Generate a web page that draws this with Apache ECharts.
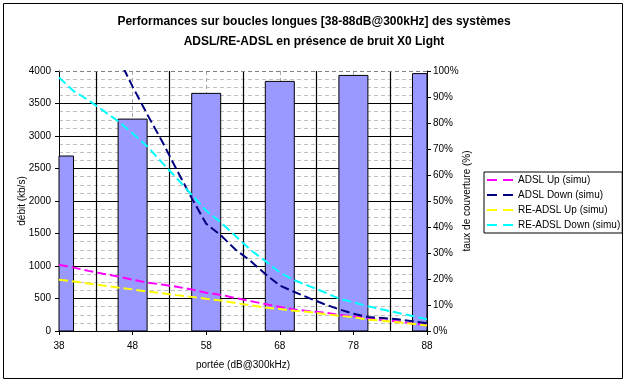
<!DOCTYPE html>
<html>
<head>
<meta charset="utf-8">
<script src="https://cdn.jsdelivr.net/npm/echarts@6/dist/echarts.min.js"></script>
<style>
html,body{margin:0;padding:0;background:#fff;}
#chart{width:628px;height:383px;}
</style>
</head>
<body>
<div id="chart"></div>
<script>
// ---- data ----
const barPositions = [38, 48, 58, 68, 78, 88];
const coverage = [0.673, 0.815, 0.914, 0.960, 0.983, 0.990];

const dbPoints = [38,40,42,44,46,48,50,52,54,56,58,60,62,64,66,68,70,72,74,76,78,80,82,84,86,88];
const adslUp = [1020,975,925,880,840,790,745,715,680,640,590,555,505,460,415,370,330,305,285,250,225,200,165,150,115,95];
const adslDown = [null,null,null,null,4220,3760,3330,2920,2480,2050,1650,1470,1250,1080,880,700,600,505,415,335,265,215,200,180,150,120];
const reAdslUp = [790,760,730,700,668,640,608,580,552,525,495,470,430,395,362,338,310,292,262,235,212,175,158,135,110,85];
const reAdslDown = [3900,3690,3550,3390,3230,3040,2840,2590,2350,2100,1850,1670,1460,1250,1080,900,780,690,600,500,440,380,330,280,230,180];

const seriesNames = ['ADSL Up (simu)', 'ADSL Down (simu)', 'RE-ADSL Up (simu)', 'RE-ADSL Down (simu)'];
const seriesColors = ['#ff00ff', '#000080', '#ffff00', '#00ffff'];
const seriesValues = [adslUp, adslDown, reAdslUp, reAdslDown];

const xTickLabels = ['38','48','58','68','78','88'];

// ---- chart ----
const FONT = 'Liberation Sans, Arial, sans-serif';
const BAR_W = 29;
const chart = echarts.init(document.getElementById('chart'), null, {renderer: 'canvas'});

function pairs(xs, ys) {
  return xs.map((x, i) => [x, ys[i]]);
}

const lineSeries = seriesNames.map((name, i) => ({
  name: name,
  type: 'line',
  xAxisIndex: 0,
  yAxisIndex: 0,
  data: pairs(dbPoints, seriesValues[i]),
  showSymbol: false,
  symbol: 'none',
  connectNulls: false,
  clip: true,
  z: 5,
  lineStyle: {color: seriesColors[i], width: 2, type: [9, 4]},
  itemStyle: {color: seriesColors[i]}
}));
lineSeries[0].markLine = {
  silent: true,
  symbol: 'none',
  label: {show: false},
  lineStyle: {color: '#808080', type: [4, 3], width: 1},
  data: [{yAxis: 4000}]
};

const option = {
  backgroundColor: '#ffffff',
  animation: false,
  textStyle: {fontFamily: FONT},
  title: {
    text: 'Performances sur boucles longues [38-88dB@300kHz] des systèmes\nADSL/RE-ADSL en présence de bruit X0 Light',
    left: 'center',
    top: 7,
    textStyle: {fontFamily: FONT, fontSize: 12, fontWeight: 'bold', color: '#000', lineHeight: 20}
  },
  legend: {
    data: seriesNames,
    orient: 'vertical',
    left: 484,
    top: 172,
    borderColor: '#000',
    borderWidth: 1,
    padding: [2, 2, 2, 3],
    itemGap: 3,
    itemWidth: 26,
    itemHeight: 2,
    icon: 'path://M0,0H10V2H0Z M16,0H26V2H16Z',
    textStyle: {fontFamily: FONT, fontSize: 10, color: '#000', lineHeight: 12}
  },
  grid: {left: 59, right: 201, top: 71, bottom: 52, containLabel: false},
  xAxis: [{
    type: 'value',
    min: 38,
    max: 88,
    interval: 10,
    name: 'portée (dB@300kHz)',
    nameLocation: 'middle',
    nameGap: 29,
    nameMoveOverlap: false,
    nameTextStyle: {fontFamily: FONT, fontSize: 10, color: '#000'},
    axisLine: {show: true, onZero: false, lineStyle: {color: '#000', width: 1}},
    axisTick: {show: true, inside: false, length: 4, lineStyle: {color: '#000'}},
    axisLabel: {fontFamily: FONT, fontSize: 10, color: '#000', margin: 10,
      formatter: (v) => { const i = barPositions.indexOf(v); return i >= 0 ? xTickLabels[i] : ''; }},
    splitLine: {show: true, lineStyle: {color: '#a8a8a8', type: [4, 3], width: 1}},
    minorTick: {show: false, splitNumber: 2},
    minorSplitLine: {show: true, lineStyle: {color: '#000', width: 1.2, type: 'solid'}}
  }],
  yAxis: [{
    type: 'value',
    min: 0,
    max: 4000,
    interval: 500,
    position: 'left',
    name: 'débit (kb/s)',
    nameLocation: 'middle',
    nameRotate: 90,
    nameGap: 32,
    nameMoveOverlap: false,
    nameTextStyle: {fontFamily: FONT, fontSize: 10, color: '#000'},
    axisLine: {show: true, lineStyle: {color: '#000', width: 1}},
    axisTick: {show: true, inside: false, length: 4, lineStyle: {color: '#000'}},
    axisLabel: {fontFamily: FONT, fontSize: 10, color: '#000', margin: 8, formatter: (v) => String(v)},
    splitLine: {show: true, showMaxLine: false, lineStyle: {color: '#000', width: 1.2}},
    minorTick: {show: false, splitNumber: 4},
    minorSplitLine: {show: true, lineStyle: {color: '#c0c0c0', type: [4, 3], width: 1}}
  }, {
    type: 'value',
    min: 0,
    max: 1,
    interval: 0.1,
    position: 'right',
    name: 'taux de couverture (%)',
    nameLocation: 'middle',
    nameRotate: 90,
    nameGap: 35,
    nameMoveOverlap: false,
    nameTextStyle: {fontFamily: FONT, fontSize: 10, color: '#000'},
    axisLine: {show: true, lineStyle: {color: '#000', width: 1}},
    axisTick: {show: true, inside: false, length: 4, lineStyle: {color: '#000'}},
    axisLabel: {fontFamily: FONT, fontSize: 10, color: '#000', margin: 6,
      formatter: (v) => Math.round(v * 100) + '%'},
    splitLine: {show: false}
  }],
  graphic: [{
    type: 'rect',
    shape: {x: 3.5, y: 3.5, width: 619, height: 375},
    style: {fill: 'none', stroke: '#000', lineWidth: 1},
    silent: true,
    z: -1
  }],
  series: [{
    name: 'taux de couverture',
    type: 'custom',
    coordinateSystem: 'cartesian2d',
    xAxisIndex: 0,
    yAxisIndex: 1,
    z: 2,
    encode: {x: 0, y: 1},
    data: pairs(barPositions, coverage),
    renderItem: function (params, api) {
      const x = api.value(0);
      const v = api.value(1);
      const top = api.coord([x, v]);
      const base = api.coord([x, 0]);
      const cs = params.coordSys;
      const rect = echarts.graphic.clipRectByRect(
        {x: top[0] - BAR_W / 2, y: top[1], width: BAR_W, height: base[1] - top[1]},
        {x: cs.x, y: cs.y, width: cs.width, height: cs.height}
      );
      if (!rect) return null;
      return {
        type: 'rect',
        shape: rect,
        style: {fill: '#9999ff', stroke: '#000', lineWidth: 1}
      };
    }
  }].concat(lineSeries)
};

chart.setOption(option);
</script>
</body>
</html>
